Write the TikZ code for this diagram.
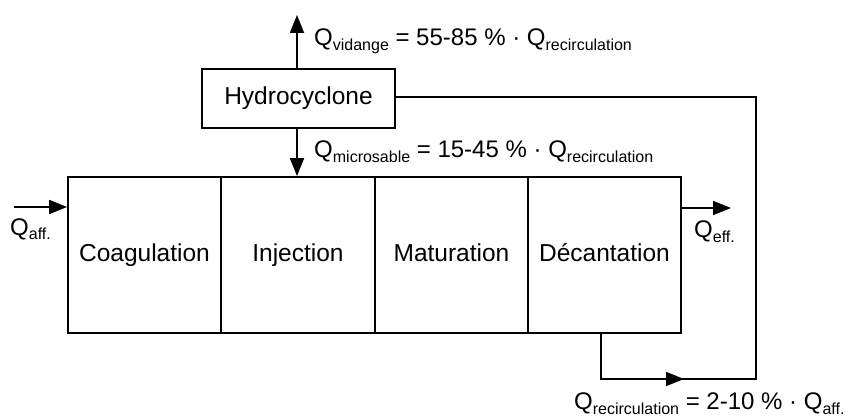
\documentclass[tikz,border=0pt]{standalone}
\usepackage{fontspec}
\setmainfont{Liberation Sans}
\usetikzlibrary{arrows.meta}
\newcommand\mysub[1]{\raisebox{-5pt}{\fontsize{16}{16}\selectfont #1}}
\tikzset{
  cell/.style={draw, line width=1.8pt, minimum height=156pt, inner sep=0pt, text height=18pt, text depth=5pt, font=\fontsize{24.5}{28}\selectfont},
  hbox/.style={draw, line width=1.8pt, minimum width=193pt, minimum height=59pt, inner sep=0pt, text height=18pt, text depth=5pt, font=\fontsize{24.5}{28}\selectfont},
  flow/.style={line width=1.8pt},
  arr/.style={flow, -{Triangle[length=18pt,width=14pt]}},
  lbl/.style={inner sep=0pt, anchor=base west, font=\fontsize{24}{28}\selectfont}
}
\begin{document}
\begin{tikzpicture}[x=1pt,y=-1pt]
\useasboundingbox (0,0) rectangle (852,417);
% main basin cells
\node[cell, minimum width=153pt] (coag) at (144.5,255) {Coagulation};
\node[cell, minimum width=154pt] (inj) at (298,255) {Injection};
\node[cell, minimum width=153pt] (mat) at (451.5,255) {Maturation};
\node[cell, minimum width=153pt] (dec) at (604.5,255) {Décantation};
% hydrocyclone
\node[hbox] (hydro) at (298.5,98.5) {Hydrocyclone};
% coordinates
\coordinate (vtop) at (297,15);
\coordinate (ain) at (14,207);
\coordinate (eout) at (731,208);
\coordinate (rdown) at (601,379);
\coordinate (rmid) at (684,379);
\coordinate (rcorner) at (756,379);
\coordinate (rtop) at (756,97);
% connectors
\draw[arr] (hydro.north -| vtop) -- (vtop);
\draw[arr] (hydro.south -| vtop) -- (inj.north -| vtop);
\draw[arr] (ain) -- (coag.west |- ain);
\draw[arr] (dec.east |- eout) -- (eout);
\draw[flow] (dec.south -| rdown) -- (rdown) -- (rmid);
\draw[arr] (rdown) -- (rmid);
\draw[flow] (rmid) -- (rcorner) -- (rtop) -- (hydro.east |- rtop);
% labels
\node[lbl] (lvid) at (314,46) {Q\mysub{vidange} = 55-85 \% · Q\mysub{recirculation}};
\node[lbl] (lmic) at (314,158) {Q\mysub{microsable} = 15-45 \% · Q\mysub{recirculation}};
\node[lbl] (laff) at (10,235) {Q\mysub{aff.}};
\node[lbl] (leff) at (694,237) {Q\mysub{eff.}};
\node[lbl] (lrec) at (574,409) {Q\mysub{recirculation} = 2-10 \% · Q\mysub{aff.}};
\end{tikzpicture}
\end{document}
